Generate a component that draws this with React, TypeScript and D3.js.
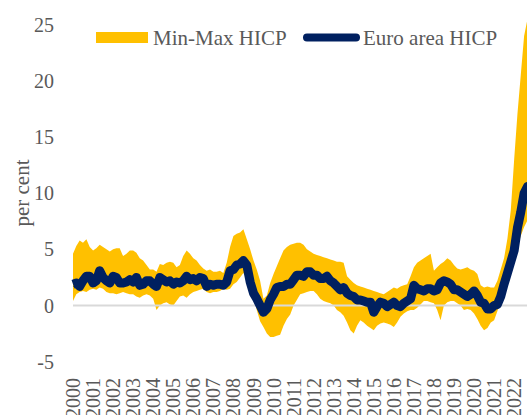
import React, { useEffect, useRef } from "react";
import * as d3 from "d3";

// Readings every second month (Jan, Mar, May, Jul, Sep, Nov) from 2000 to 2022
const years = d3.range(2000, 2023);
const monthsInYear = [0, 2, 4, 6, 8, 10];
const yTicks = [-5, 0, 5, 10, 15, 20, 25];

const euroArea = [
  1.9, 2.0, 1.7, 2.2, 2.6, 2.6,
  2.0, 2.2, 3.1, 2.5, 2.2, 2.0,
  2.6, 2.5, 2.0, 2.0, 2.1, 2.3,
  2.1, 2.5, 1.8, 1.9, 2.2, 2.2,
  1.9, 1.7, 2.5, 2.3, 2.1, 2.2,
  1.9, 2.1, 2.0, 2.2, 2.6, 2.3,
  2.4, 2.2, 2.5, 2.4, 1.7, 1.9,
  1.8, 1.9, 1.9, 1.8, 2.1, 3.1,
  3.2, 3.6, 3.7, 4.0, 3.6, 2.1,
  1.1, 0.6, 0.0, -0.6, -0.3, 0.5,
  1.0, 1.6, 1.7, 1.7, 1.9, 1.9,
  2.3, 2.7, 2.7, 2.6, 3.0, 3.0,
  2.7, 2.7, 2.4, 2.4, 2.6, 2.2,
  2.0, 1.7, 1.4, 1.6, 1.1, 0.9,
  0.8, 0.5, 0.5, 0.4, 0.3, 0.3,
  -0.6, -0.1, 0.3, 0.2, -0.1, 0.1,
  0.3, 0.0, -0.1, 0.2, 0.4, 0.6,
  1.8, 1.5, 1.4, 1.3, 1.5, 1.5,
  1.3, 1.4, 2.0, 2.2, 2.1, 1.9,
  1.4, 1.4, 1.2, 1.0, 0.8, 1.0,
  1.3, 0.9, 0.3, 0.2, -0.3, -0.3,
  0.0, 0.1, 0.8, 1.9, 2.9, 3.9,
  4.9, 6.9, 8.3, 10.0, 10.6, 10.7,
];

const maxHicp = [
  4.6, 5.3, 5.8, 5.6, 5.9, 5.2,
  4.9, 5.1, 5.4, 5.2, 5.0, 4.8,
  5.0, 5.1, 5.1, 4.4, 4.6, 4.9,
  4.9, 4.7, 4.2, 4.0, 3.6, 3.2,
  3.2, 3.0, 3.7, 3.6, 3.8, 3.9,
  3.8, 3.4, 3.6, 4.4, 4.9, 4.6,
  4.2, 4.0, 3.6, 3.3, 3.1, 3.2,
  3.0, 3.0, 3.1, 2.9, 3.8, 5.2,
  6.2, 6.4, 6.5, 6.8, 5.9, 5.0,
  4.0, 3.2, 2.2, 0.6, 0.9, 2.0,
  2.8, 3.5, 4.2, 4.9, 5.2, 5.4,
  5.5, 5.6, 5.6, 5.4, 5.0, 4.8,
  4.6, 4.5, 4.4, 4.3, 4.2, 4.1,
  4.0, 3.9, 3.9, 3.8, 2.6, 2.3,
  2.0, 1.8, 1.7, 1.6, 1.5, 1.4,
  1.3, 1.2, 1.1, 1.0, 1.2, 1.4,
  1.6, 1.5, 1.7, 1.8, 1.9, 2.6,
  3.4, 3.8, 4.0, 4.2, 4.4, 4.6,
  3.1, 3.4, 3.7, 3.9, 4.2, 4.0,
  3.6, 3.3, 3.2, 3.3, 3.4, 3.2,
  3.1, 2.8, 1.8, 1.6, 1.7, 1.6,
  1.6, 2.2, 3.2, 4.2, 6.0, 8.5,
  13.0, 17.0, 20.5, 24.0, 25.5, 26.0,
];

const minHicp = [
  0.4, 1.0, 1.2, 1.3, 1.2, 1.4,
  1.5, 1.4, 1.6, 1.5, 1.2, 1.1,
  1.1, 1.0, 1.1, 1.2, 1.1, 1.0,
  1.0, 0.8, 0.7, 0.9, 1.0, 0.9,
  0.6, -0.4, 0.0, 0.2, 0.3, 0.1,
  0.0, 0.4, 0.8, 0.9, 0.7, 1.0,
  1.2, 1.3, 1.4, 1.5, 1.2, 1.1,
  1.2, 1.2, 1.3, 1.5, 1.4, 1.5,
  1.9, 2.1, 2.5, 2.9, 2.4, 1.9,
  0.8, -0.4, -1.4, -1.9, -2.5, -2.8,
  -2.8, -2.7, -2.6, -1.8, -1.2, -0.8,
  0.0, 0.5, 1.0, 1.1, 1.2, 1.3,
  1.3, 1.0, 0.6, 0.4, 0.3, 0.2,
  0.0, -0.4, -0.6, -0.9, -1.5, -2.2,
  -2.5, -1.8, -1.3, -1.5, -1.8, -2.0,
  -2.2, -1.8, -1.6, -1.5, -1.6, -1.7,
  -1.9, -1.5, -1.0, -0.7, -0.5, -0.4,
  -0.4, -0.2, 0.1, 0.4, 0.4, 0.3,
  0.2, -0.4, -1.3, 0.0, 0.3, 0.4,
  0.4, 0.2, 0.0, -0.4, -0.3, -0.4,
  -0.7, -1.2, -1.8, -2.2, -2.0, -1.5,
  -1.3, -0.5, 0.5, 1.5, 2.6, 3.4,
  4.3, 5.3, 6.2, 7.0, 7.6, 7.8,
];

const YELLOW = "#FFC000";
const NAVY = "#002060";
const TEXT = "#595959";
const FONT = "'Liberation Serif', 'Times New Roman', serif";

export default function App() {
  const ref = useRef<SVGSVGElement>(null);

  useEffect(() => {
    const width = 527;
    const svg = d3.select(ref.current);
    svg.selectAll("*").remove();

    const dates = years.flatMap((yr) => monthsInYear.map((m) => new Date(yr, m, 1)));
    const data = dates.map((d, i) => ({
      date: d, ea: euroArea[i], lo: minHicp[i], hi: maxHicp[i],
    }));

    // one year is about 20 px wide
    const x = d3.scaleTime()
      .domain([new Date(2000, 0, 1), new Date(2023, 0, 1)])
      .range([73, 534.2]);
    const y = d3.scaleLinear().domain([-5, 25]).range([361.7, 24.7]);

    svg.append("clipPath").attr("id", "plot-clip")
      .append("rect").attr("x", 0).attr("y", 0).attr("width", width).attr("height", 415);

    const plot = svg.append("g").attr("clip-path", "url(#plot-clip)");

    // min-max band
    plot.append("path")
      .datum(data)
      .attr("fill", YELLOW)
      .attr("d", d3.area<any>()
        .x((d) => x(d.date))
        .y0((d) => y(d.lo))
        .y1((d) => y(d.hi)));

    // zero line
    plot.append("line")
      .attr("x1", x(new Date(2000, 0, 1)))
      .attr("x2", width)
      .attr("y1", y(0))
      .attr("y2", y(0))
      .attr("stroke", "#d9d9d9")
      .attr("stroke-width", 2);

    // euro area line
    plot.append("path")
      .datum(data)
      .attr("fill", "none")
      .attr("stroke", NAVY)
      .attr("stroke-width", 9)
      .attr("stroke-linejoin", "round")
      .attr("d", d3.line<any>().x((d) => x(d.date)).y((d) => y(d.ea)));

    // y tick labels
    svg.append("g")
      .selectAll("text")
      .data(yTicks)
      .enter()
      .append("text")
      .attr("x", 54)
      .attr("y", (d) => y(d))
      .attr("dy", "0.35em")
      .attr("text-anchor", "end")
      .attr("font-size", 20)
      .attr("font-family", FONT)
      .attr("fill", TEXT)
      .text((d) => d);

    // x year labels, rotated
    svg.append("g")
      .selectAll("text")
      .data(years)
      .enter()
      .append("text")
      .attr("transform", (d) => `translate(${x(new Date(d, 0, 1))},378) rotate(-90)`)
      .attr("dy", "0.35em")
      .attr("text-anchor", "end")
      .attr("font-size", 20)
      .attr("font-family", FONT)
      .attr("fill", TEXT)
      .text((d) => d);

    // y axis title
    svg.append("text")
      .attr("transform", "translate(22,193) rotate(-90)")
      .attr("dy", "0.35em")
      .attr("text-anchor", "middle")
      .attr("font-size", 21)
      .attr("font-family", FONT)
      .attr("fill", TEXT)
      .text("per cent");

    // legend
    const legend = svg.append("g");
    legend.append("rect")
      .attr("x", 96).attr("y", 32).attr("width", 52).attr("height", 11)
      .attr("fill", YELLOW);
    legend.append("text")
      .attr("x", 153).attr("y", 45)
      .attr("font-size", 21).attr("font-family", FONT).attr("fill", TEXT)
      .text("Min-Max HICP");
    legend.append("line")
      .attr("x1", 307).attr("x2", 356).attr("y1", 37.5).attr("y2", 37.5)
      .attr("stroke", NAVY).attr("stroke-width", 8).attr("stroke-linecap", "round");
    legend.append("text")
      .attr("x", 363).attr("y", 45)
      .attr("font-size", 21).attr("font-family", FONT).attr("fill", TEXT)
      .text("Euro area HICP");
  }, []);

  return (
    <div style={{ position: "absolute", left: 0, top: 0 }}>
      <svg ref={ref} width={527} height={415} style={{ display: "block" }} />
    </div>
  );
}
